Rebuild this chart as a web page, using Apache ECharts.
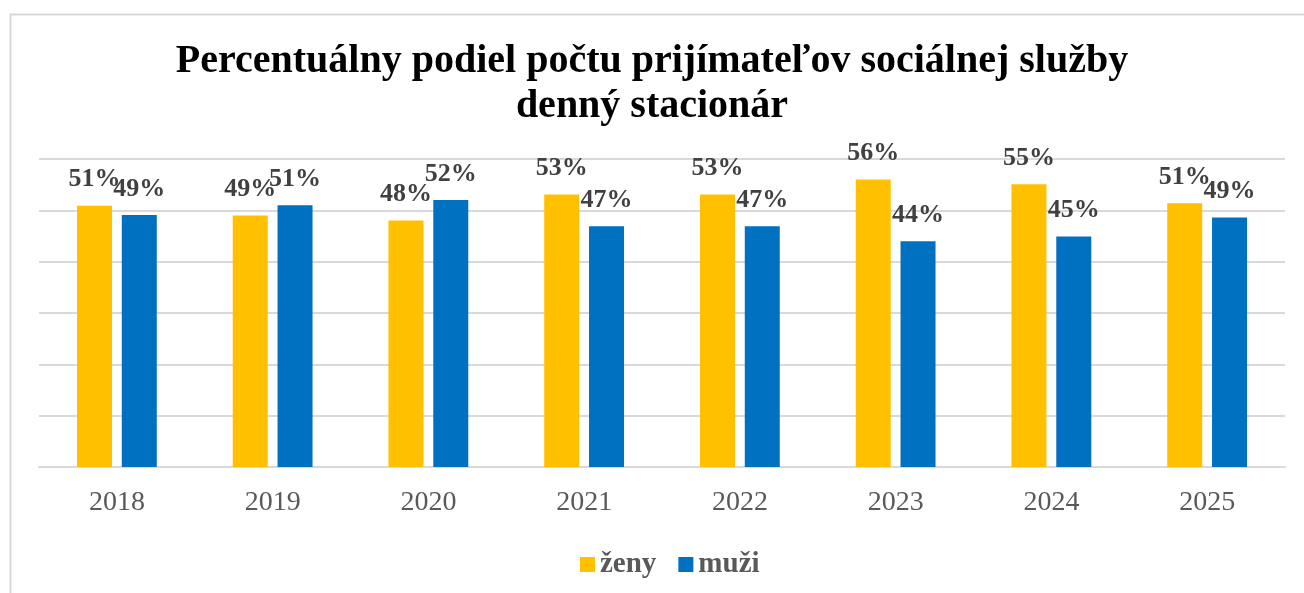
<!DOCTYPE html>
<html>
<head>
<meta charset="utf-8">
<script src="https://cdn.jsdelivr.net/npm/echarts@6/dist/echarts.min.js"></script>
<style>
  html, body { margin: 0; padding: 0; background: #fff; }
  #chart { width: 1304px; height: 593px; }
</style>
</head>
<body>
<div id="chart"></div>
<script>
var years = ['2018', '2019', '2020', '2021', '2022', '2023', '2024', '2025'];
var zeny = [50.9, 49.0, 48.0, 53.1, 53.1, 56.0, 55.1, 51.4];
var muzi = [49.1, 51.0, 52.0, 46.9, 46.9, 44.0, 44.9, 48.6];

var serif = "'Liberation Serif', 'Times New Roman', serif";
var chart = echarts.init(document.getElementById('chart'));

var labelStyle = {
    show: true,
    position: 'top',
    distance: 13,
    fontFamily: serif,
    fontWeight: 'bold',
    fontSize: 26,
    color: '#404040',
    formatter: function (p) { return Math.round(p.value) + '%'; }
};

var option = {
    animation: false,
    backgroundColor: '#fff',
    graphic: [{
        type: 'rect',
        shape: { x: 10.5, y: 14.5, width: 1400, height: 700 },
        style: { fill: 'none', stroke: '#d9d9d9', lineWidth: 2 },
        silent: true
    }],
    title: {
        text: 'Percentuálny podiel počtu prijímateľov sociálnej služby\ndenný stacionár',
        left: 'center',
        top: 34,
        textStyle: {
            fontFamily: serif,
            fontWeight: 'bold',
            fontSize: 40,
            lineHeight: 45,
            color: '#000'
        }
    },
    legend: {
        data: ['ženy', 'muži'],
        left: 575,
        top: 545,
        itemWidth: 15,
        itemHeight: 15,
        itemGap: 22,
        icon: 'rect',
        textStyle: {
            fontFamily: serif,
            fontWeight: 'bold',
            fontSize: 29,
            color: '#595959'
        }
    },
    grid: { left: 39, right: 19, top: 159, bottom: 126 },
    xAxis: {
        type: 'category',
        data: years,
        axisTick: { show: false },
        axisLine: { lineStyle: { color: '#d9d9d9', width: 2 } },
        axisLabel: {
            margin: 22,
            fontFamily: serif,
            fontSize: 28,
            color: '#595959'
        }
    },
    yAxis: {
        type: 'value',
        min: 0,
        max: 60,
        interval: 10,
        axisLabel: { show: false },
        axisLine: { show: false },
        axisTick: { show: false },
        splitLine: { lineStyle: { color: '#d9d9d9', width: 2 } }
    },
    series: [
        {
            name: 'ženy',
            type: 'bar',
            data: zeny,
            barWidth: 35,
            barGap: '28%',
            itemStyle: { color: '#FFC000' },
            label: labelStyle
        },
        {
            name: 'muži',
            type: 'bar',
            data: muzi,
            barWidth: 35,
            itemStyle: { color: '#0070C0' },
            label: labelStyle
        }
    ]
};
chart.setOption(option);
window.addEventListener('resize', function () {
    chart.resize();
});
</script>
</body>
</html>
